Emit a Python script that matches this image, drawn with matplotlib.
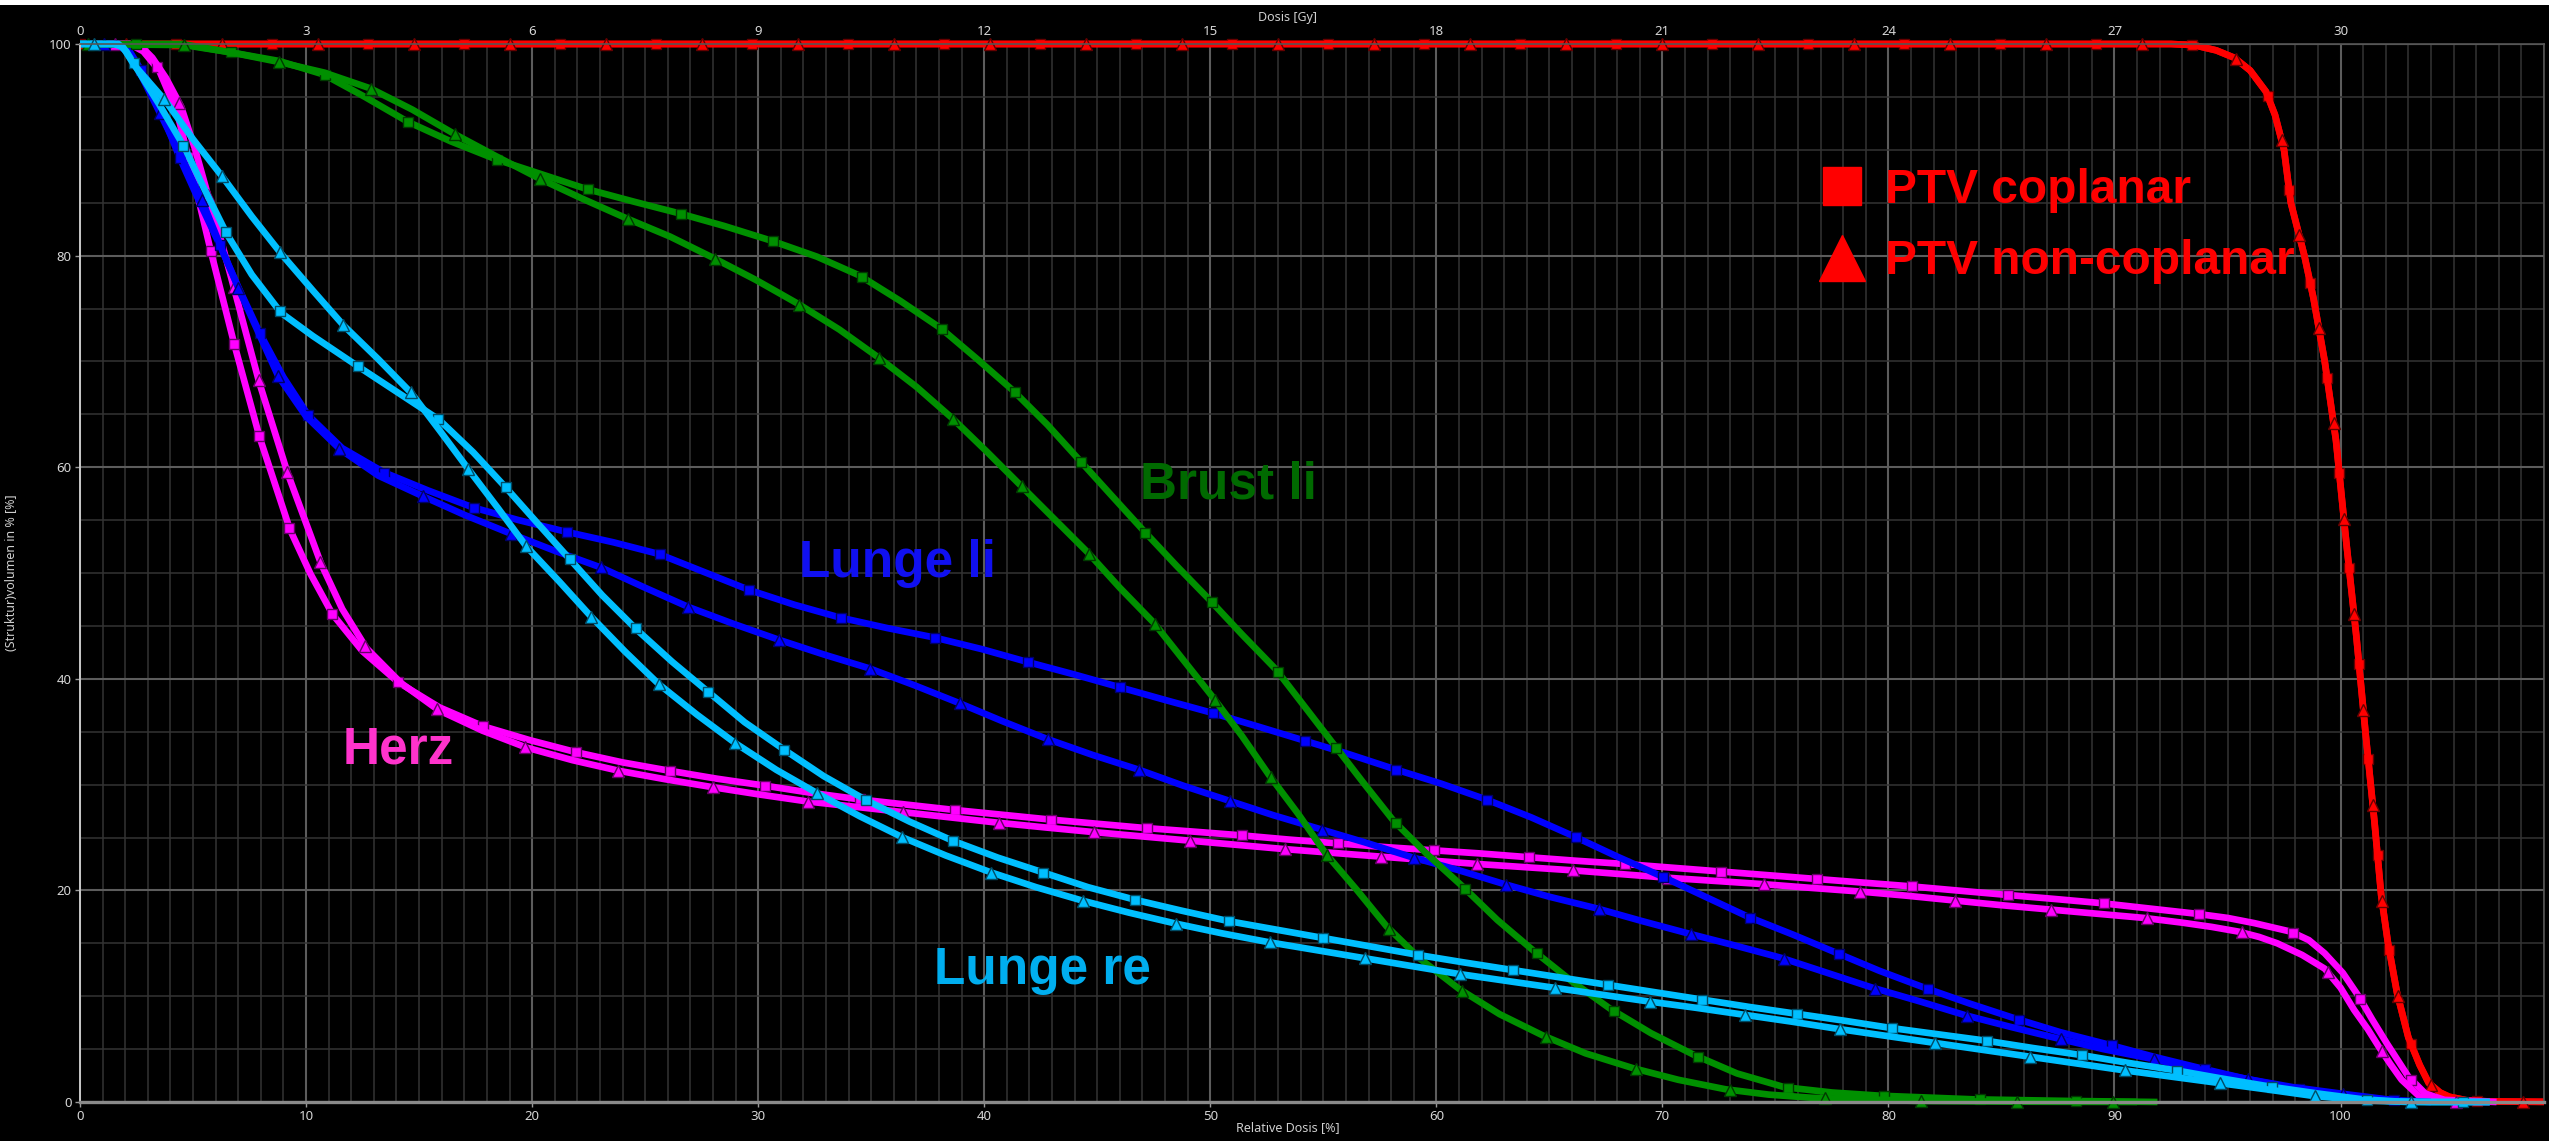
import numpy as np
import matplotlib
matplotlib.use("Agg")
import matplotlib.pyplot as plt
from matplotlib.lines import Line2D
from matplotlib.patches import Rectangle
from matplotlib.ticker import MultipleLocator, FixedLocator
from matplotlib.transforms import Bbox, TransformedBbox
from matplotlib.colors import to_rgb

plt.rcParams['font.family'] = ['Noto Sans', 'DejaVu Sans']

PRESCRIPTION_GY = 30.0

# ---- cumulative DVH data: relative dose [%] vs. structure volume [%] ----
# PTV
ptv_cop_dose = [0, 92.5, 93.5, 94.5, 95.3, 96.0, 96.7, 97.1, 97.5, 97.8, 98.1, 98.4, 98.8, 99.3,
                99.8, 100.2, 100.7, 101.1, 101.5, 101.8, 102.1, 102.5, 103.0, 103.5, 103.9, 104.4,
                104.8, 105.6, 106.6, 110]
ptv_cop_vol = [100, 100, 99.9, 99.4, 98.7, 97.5, 95.5, 93.3, 90.0, 85.0, 82.5, 80.0, 76.0, 70.0,
               62.5, 54.0, 44.0, 35.0, 26.5, 19.5, 15.0, 10.3, 6.1, 3.5, 1.8, 0.9,
               0.5, 0.15, 0.05, 0]
ptv_non_dose = [0, 92.5, 93.5, 94.5, 95.3, 96.0, 96.7, 97.1, 97.5, 97.8, 98.1, 98.4, 98.8, 99.3,
                99.8, 100.2, 100.7, 101.1, 101.5, 101.8, 102.1, 102.5, 103.0, 103.5, 103.9, 104.4,
                104.8, 105.6, 106.6, 110]
ptv_non_vol = [100, 100, 99.9, 99.4, 98.7, 97.5, 95.5, 93.3, 90.0, 85.0, 82.5, 80.0, 76.0, 70.0,
               62.5, 54.0, 44.0, 35.0, 26.5, 19.5, 15.0, 10.3, 6.1, 3.5, 1.8, 0.9,
               0.5, 0.15, 0.05, 0]

# Herz
herz_cop_dose = [0, 2.2, 2.8, 3.5, 4.3, 5.0, 5.8, 6.84, 7.95, 9.29, 10.2, 11.17, 12.5, 14.06, 15.9,
                 17.85, 19.9, 21.97, 24.0, 26.1, 28.2, 30.3, 32.4, 34.5, 36.6, 38.7, 40.8, 42.9,
                 45.0, 47.1, 49.3, 51.4, 53.5, 55.6, 57.7, 59.8, 61.9, 64.0, 66.2, 68.3, 70.4,
                 72.5, 74.6, 76.7, 78.8, 80.9, 83.0, 85.1, 87.3, 89.4, 91.5, 93.6, 95.0, 96.2,
                 97.8, 98.6, 99.3, 100.1, 100.8, 101.4, 102.06, 103.0, 103.75, 104.6, 106.9]
herz_cop_vol = [100, 100, 99.3, 97.5, 93.5, 87.5, 80.3, 71.5, 62.8, 54.1, 49.9, 46.1, 42.6, 39.7, 37.3,
                35.5, 34.2, 33.05, 32.1, 31.3, 30.55, 29.9, 29.2, 28.6, 28.1, 27.6, 27.15, 26.7,
                26.3, 25.9, 25.55, 25.2, 24.8, 24.45, 24.1, 23.8, 23.5, 23.15, 22.8, 22.5, 22.15,
                21.8, 21.45, 21.1, 20.75, 20.4, 20.0, 19.6, 19.2, 18.8, 18.3, 17.8, 17.4, 16.9,
                16.1, 15.3, 14.05, 12.2, 10.0, 7.8, 5.5, 2.4, 0.8, 0.2, 0]
herz_non_dose = [0, 2.6, 3.2, 3.8, 4.47, 5.1, 5.69, 6.3, 6.84, 7.93, 9.19, 10.66, 11.6, 12.67, 14.2,
                 15.85, 17.8, 19.75, 21.8, 23.85, 25.9, 28.0, 30.1, 32.2, 34.3, 36.4, 38.5, 40.6,
                 42.7, 44.9, 47.0, 49.1, 51.2, 53.3, 55.4, 57.5, 59.6, 61.8, 63.9, 66.0, 68.1,
                 70.2, 72.3, 74.4, 76.5, 78.7, 80.8, 82.9, 85.0, 87.1, 89.2, 91.3, 93.0, 94.3,
                 95.5, 96.4, 97.2, 98.3, 99.3, 100.0, 100.6, 101.2, 101.7, 102.2, 102.7, 103.5,
                 104.2, 106.6]
herz_non_vol = [100, 100, 98.7, 96.8, 94.1, 90.0, 85.5, 81.0, 76.7, 68.0, 59.4, 50.9, 46.6, 42.9, 39.6,
                37.05, 35.1, 33.5, 32.3, 31.3, 30.5, 29.75, 29.05, 28.4, 27.9, 27.4, 26.9, 26.4,
                25.95, 25.5, 25.1, 24.7, 24.3, 23.9, 23.55, 23.2, 22.85, 22.5, 22.2, 21.9, 21.55,
                21.2, 20.9, 20.6, 20.25, 19.9, 19.5, 19.05, 18.6, 18.2, 17.8, 17.4, 16.95, 16.55,
                16.1, 15.6, 15.0, 13.9, 12.6, 10.8, 8.7, 6.9, 5.2, 3.6, 2.1, 0.5,
                0.05, 0]

# Lunge li
lli_cop_dose = [0, 1.8, 2.2, 3.0, 3.7, 4.42, 5.3, 6.19, 7.05, 7.95, 9.0, 10.1, 11.6, 13.46, 15.4,
                17.38, 19.4, 21.5, 23.6, 25.6, 27.6, 29.6, 31.6, 33.6, 35.7, 37.8, 39.9, 41.9,
                44.0, 46.0, 48.0, 50.05, 52.1, 54.1, 56.1, 58.1, 60.2, 62.2, 64.2, 66.1, 68.0,
                70.0, 71.9, 73.8, 75.8, 77.7, 79.6, 81.6, 83.6, 85.6, 87.6, 89.7, 91.7, 93.8,
                95.8, 97.9, 100.0, 102.2, 104.0]
lli_cop_vol = [100, 100, 99.3, 96.5, 93.0, 89.2, 85.0, 80.95, 76.8, 72.7, 68.5, 64.9, 61.8, 59.5, 57.8,
               56.2, 55.0, 53.9, 52.9, 51.8, 50.1, 48.4, 47.0, 45.8, 44.8, 43.9, 42.8, 41.6,
               40.4, 39.2, 38.0, 36.8, 35.5, 34.2, 32.9, 31.5, 30.1, 28.6, 26.9, 25.1, 23.2,
               21.3, 19.4, 17.5, 15.8, 14.1, 12.4, 10.8, 9.3, 7.9, 6.6, 5.45, 4.3, 3.2,
               2.2, 1.3, 0.6, 0.2, 0]
lli_non_dose = [0, 1.7, 2.05, 2.6, 3.55, 4.5, 5.4, 6.2, 7.03, 7.9, 8.77, 10.0, 11.5, 13.2, 15.17,
                17.0, 18.96, 21.0, 23.07, 24.9, 26.9, 28.9, 30.9, 32.9, 34.9, 36.9, 38.9, 40.8,
                42.8, 44.8, 46.85, 48.8, 50.8, 52.8, 54.85, 56.9, 58.9, 61.0, 63.0, 65.0, 67.1,
                69.1, 71.2, 73.2, 75.3, 77.3, 79.3, 81.4, 83.4, 85.4, 87.5, 89.5, 91.6, 93.7,
                95.8, 97.9, 100.0, 101.5, 103.0]
lli_non_vol = [100, 100, 99.3, 97.5, 93.4, 89.3, 85.2, 81.0, 76.8, 72.7, 68.6, 64.8, 61.7, 59.2, 57.25,
               55.5, 53.8, 52.1, 50.5, 48.7, 46.8, 45.2, 43.7, 42.3, 41.0, 39.4, 37.7, 36.0,
               34.3, 32.8, 31.4, 29.9, 28.5, 27.1, 25.8, 24.5, 23.15, 21.9, 20.6, 19.4, 18.3,
               17.1, 15.9, 14.8, 13.6, 12.2, 10.8, 9.5, 8.2, 7.1, 6.0, 5.0, 4.1, 3.1,
               2.2, 1.4, 0.8, 0.4, 0]

# Brust li
bli_cop_dose = [0, 4.5, 6.7, 8.8, 10.8, 12.6, 14.5, 16.4, 18.4, 20.4, 22.4, 24.5, 26.5, 28.5, 30.6,
                32.6, 34.5, 36.3, 38.1, 39.7, 41.3, 42.8, 44.2, 45.6, 47.05, 48.5, 50.0, 51.4,
                52.9, 54.2, 55.5, 56.8, 58.1, 59.6, 61.2, 62.7, 64.3, 66.0, 67.7, 69.5, 71.4,
                73.3, 75.4, 77.5, 79.6, 83.8, 88.0, 91.9]
bli_cop_vol = [100, 100, 99.2, 98.4, 97.1, 95.0, 92.65, 90.8, 89.1, 87.7, 86.3, 85.1, 84.0, 82.8, 81.4,
               79.9, 78.1, 75.7, 73.1, 70.2, 67.2, 64.0, 60.7, 57.4, 54.0, 50.7, 47.4, 44.2,
               40.9, 37.3, 33.7, 30.1, 26.6, 23.4, 20.3, 17.2, 14.3, 11.4, 8.8, 6.5, 4.45,
               2.7, 1.4, 0.9, 0.6, 0.25, 0.1, 0]
bli_non_dose = [0, 4.6, 6.7, 8.8, 10.8, 12.85, 14.7, 16.56, 18.4, 20.3, 22.2, 24.2, 26.1, 28.0, 29.9,
                31.8, 33.6, 35.3, 37.0, 38.6, 40.1, 41.6, 43.1, 44.6, 46.0, 47.5, 48.8, 50.1,
                51.4, 52.6, 53.9, 55.1, 56.5, 57.8, 59.3, 61.0, 62.8, 64.7, 66.6, 68.7, 70.7,
                72.8, 74.7, 76.6, 81.2, 85.4, 91.0]
bli_non_vol = [100, 99.9, 99.2, 98.3, 97.3, 95.8, 93.8, 91.5, 89.4, 87.3, 85.4, 83.5, 81.8, 79.8, 77.7,
               75.4, 73.0, 70.4, 67.6, 64.6, 61.5, 58.3, 55.1, 51.9, 48.6, 45.3, 41.8, 38.3,
               34.6, 30.9, 27.2, 23.5, 20.0, 16.6, 13.5, 10.7, 8.3, 6.3, 4.6, 3.2, 2.1,
               1.2, 0.7, 0.4, 0.1, 0.03, 0]

# Lunge re
lre_cop_dose = [0, 1.7, 2.05, 2.42, 3.5, 4.63, 5.5, 6.48, 7.6, 8.89, 10.3, 12.32, 14.1, 15.88, 17.4,
                18.83, 20.2, 21.67, 23.1, 24.6, 26.2, 27.8, 29.4, 31.15, 32.9, 34.8, 36.7, 38.6,
                40.6, 42.6, 44.6, 46.7, 48.7, 50.8, 52.9, 55.0, 57.1, 59.2, 61.2, 63.3, 65.4,
                67.5, 69.6, 71.7, 73.8, 75.9, 78.0, 80.1, 82.2, 84.3, 86.4, 88.5, 90.6, 92.7,
                94.8, 96.9, 99.0, 101.0, 102.5, 104.0, 106.6]
lre_cop_vol = [100, 100, 99.3, 98.0, 94.3, 90.2, 86.3, 82.1, 78.2, 74.6, 72.4, 69.5, 67.0, 64.5, 61.4,
               58.1, 54.8, 51.3, 47.9, 44.7, 41.6, 38.75, 35.9, 33.3, 30.8, 28.5, 26.5, 24.7,
               23.1, 21.7, 20.3, 19.1, 18.1, 17.1, 16.3, 15.5, 14.7, 13.9, 13.2, 12.5, 11.8,
               11.1, 10.4, 9.7, 9.0, 8.35, 7.7, 7.0, 6.4, 5.8, 5.1, 4.45, 3.7, 3.0,
               2.2, 1.45, 0.8, 0.25, 0.05, 0, 0]
lre_non_dose = [0, 1.5, 1.9, 2.4, 3.79, 5.0, 6.32, 7.6, 8.93, 10.3, 11.66, 13.2, 14.66, 15.9, 17.22,
                18.5, 19.75, 21.2, 22.6, 24.1, 25.6, 27.3, 29.0, 30.8, 32.6, 34.5, 36.4, 38.3,
                40.3, 42.3, 44.4, 46.4, 48.5, 50.5, 52.6, 54.7, 56.8, 58.9, 61.0, 63.1, 65.2,
                67.3, 69.4, 71.5, 73.6, 75.7, 77.8, 79.9, 82.0, 84.1, 86.2, 88.3, 90.4, 92.5,
                94.6, 96.7, 98.8, 101.0, 103.0, 106.6]
lre_non_vol = [100, 100, 99.7, 98.0, 94.6, 91.0, 87.4, 83.7, 80.1, 76.7, 73.4, 70.2, 67.0, 63.5, 59.7,
               56.1, 52.5, 49.2, 45.9, 42.6, 39.5, 36.6, 33.9, 31.4, 29.2, 27.0, 25.0, 23.3,
               21.7, 20.3, 19.0, 17.9, 16.85, 15.95, 15.1, 14.35, 13.6, 12.85, 12.1, 11.45, 10.8,
               10.15, 9.5, 8.9, 8.25, 7.6, 6.9, 6.25, 5.6, 4.95, 4.3, 3.65, 3.0, 2.4,
               1.8, 1.2, 0.57, 0.15, 0, 0]

structure_labels = ['Herz', 'Lunge li', 'Brust li', 'Lunge re']
legend_labels = ['PTV coplanar', 'PTV non-coplanar']
gy_ticks = [0, 3, 6, 9, 12, 15, 18, 21, 24, 27, 30]

# ---- colours ----
RED = '#FF0000'
MAGENTA = '#FF00FF'
BLUE = '#0000FF'
GREEN = '#009000'
SKY = '#00BFFF'

W, H = 2549, 1141
fig = plt.figure(figsize=(W / 100, H / 100), dpi=100, facecolor='black')
ax = fig.add_axes([80 / W, 39 / H, 2464 / W, 1058 / H])
ax.set_facecolor('black')
ax.set_xlim(0, 109)
ax.set_ylim(0, 100)

# thin white band along the top edge of the window
fig.add_artist(Rectangle((0, 1 - 5 / H), 1, 5 / H, transform=fig.transFigure,
                         facecolor='white', edgecolor='none', zorder=10))

# grid
ax.xaxis.set_major_locator(MultipleLocator(10))
ax.xaxis.set_minor_locator(MultipleLocator(1))
ax.yaxis.set_major_locator(MultipleLocator(20))
ax.yaxis.set_minor_locator(MultipleLocator(5))
ax.set_axisbelow(True)
ax.grid(which='minor', color='#343434', lw=1.1)
ax.grid(which='major', color='#5c5c5c', lw=1.5)
ax.tick_params(which='minor', length=0)
ax.tick_params(which='major', color='#9a9a9a', labelcolor='#d6d6d6', labelsize=9.5,
               length=3.5, width=1.0, pad=2.5)

for side, col, lw in [('left', '#c8c8c8', 1.4), ('bottom', '#8a8a8a', 2.4),
                      ('top', '#555555', 1.2), ('right', '#555555', 1.2)]:
    ax.spines[side].set_color(col)
    ax.spines[side].set_linewidth(lw)

# absolute dose scale on top
sec = ax.secondary_xaxis('top', functions=(lambda r: r * PRESCRIPTION_GY / 100.0,
                                            lambda g: g * 100.0 / PRESCRIPTION_GY))
sec.xaxis.set_major_locator(FixedLocator(gy_ticks))
sec.tick_params(length=0, pad=4, labelcolor='#d6d6d6', labelsize=9.5)
sec.spines['top'].set_color('#555555')
ax.text(0.49, 1.0254, 'Dosis [Gy]', transform=ax.transAxes, ha='center', va='center',
        color='#cfcfcf', fontsize=9)

ax.set_xlabel('Relative Dosis [%]', color='#cfcfcf', fontsize=9)
ax.xaxis.set_label_coords(0.49, -0.018)
ax.set_ylabel('(Struktur)volumen in % [%]', color='#cfcfcf', fontsize=9)
ax.yaxis.set_label_coords(-0.0250, 0.5)

# curves are clipped at the left/right edges only, so the 0 % and 100 % lines keep full width
clip_box = TransformedBbox(Bbox([[0, -0.02], [1, 1.02]]), ax.transAxes)
MARKER_GAP_PX = 96.0


def darker(c, f=0.4):
    r, g, b = to_rgb(c)
    return (r * f, g * f, b * f)


def draw_curve(dose, vol, color, marker, anchor):
    dose = np.asarray(dose, float)
    vol = np.asarray(vol, float)
    line, = ax.plot(dose, vol, color=color, lw=4.8, solid_joinstyle='round',
                    solid_capstyle='butt')
    line.set_clip_box(clip_box)
    # symbols at equal on-screen distances along the drawn curve
    pts = ax.transData.transform(np.column_stack([dose, vol]))
    s = np.concatenate([[0.0], np.cumsum(np.hypot(*np.diff(pts, axis=0).T))])
    s0 = np.interp(anchor, dose, s) % MARKER_GAP_PX
    t = np.arange(s0, s[-1], MARKER_GAP_PX)
    mpix = np.column_stack([np.interp(t, s, pts[:, 0]), np.interp(t, s, pts[:, 1])])
    mdat = ax.transData.inverted().transform(mpix)
    ms = 7.4 if marker == 's' else 8.4
    mk, = ax.plot(mdat[:, 0], mdat[:, 1], ls='none', marker=marker, ms=ms,
                  mfc=color, mec=darker(color), mew=1.0)
    mk.set_clip_box(clip_box)


draw_curve(ptv_cop_dose, ptv_cop_vol, RED, 's', 4.26)
draw_curve(ptv_non_dose, ptv_non_vol, RED, '^', 6.3)
draw_curve(herz_cop_dose, herz_cop_vol, MAGENTA, 's', 30.3)
draw_curve(herz_non_dose, herz_non_vol, MAGENTA, '^', 28.0)
draw_curve(lli_cop_dose, lli_cop_vol, BLUE, 's', 29.6)
draw_curve(lli_non_dose, lli_non_vol, BLUE, '^', 30.9)
draw_curve(bli_cop_dose, bli_cop_vol, GREEN, 's', 6.7)
draw_curve(bli_non_dose, bli_non_vol, GREEN, '^', 8.8)
draw_curve(lre_cop_dose, lre_cop_vol, SKY, 's', 31.15)
draw_curve(lre_non_dose, lre_non_vol, SKY, '^', 32.6)

# structure names
label_font = dict(family=['Liberation Sans', 'DejaVu Sans'], weight='bold', fontsize=37,
                  ha='left', va='baseline', zorder=20)
ax.text(11.6, 32.0, structure_labels[0], color='#FF33CC', **label_font)
ax.text(31.8, 49.6, structure_labels[1], color='#1010F0', **label_font)
ax.text(46.9, 57.0, structure_labels[2], color='#006A00', **label_font)
ax.text(37.8, 11.15, structure_labels[3], color='#00AEEF', **label_font)

# PTV legend
handles = [Line2D([], [], ls='none', marker='s', ms=28, color=RED),
           Line2D([], [], ls='none', marker='^', ms=33, color=RED)]
leg = ax.legend(handles, legend_labels, loc='upper left', bbox_to_anchor=(0.7052, 0.8828),
                bbox_transform=ax.transAxes, frameon=False, labelcolor=RED,
                prop=dict(family=['Liberation Sans', 'DejaVu Sans'], weight='bold', size=34.5),
                handlelength=1.0, handletextpad=0.4, labelspacing=0.55,
                borderpad=0, borderaxespad=0)
leg.set_zorder(20)

fig.savefig('out.png', dpi=100, facecolor='black')
